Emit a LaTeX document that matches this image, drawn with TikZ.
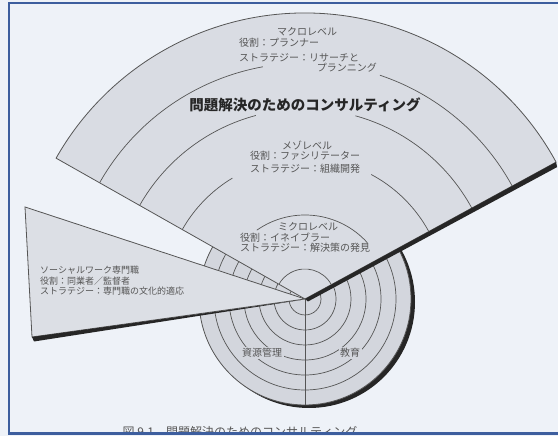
\documentclass[tikz,border=0pt]{standalone}
\usepackage{fontspec}
\newfontfamily\jp{Noto Sans CJK JP}
\usetikzlibrary{calc}
\definecolor{paper}{HTML}{EEF2F8}
\definecolor{fanfill}{HTML}{D9DCE3}
\definecolor{diskfill}{HTML}{D3D6DD}
\definecolor{wedgefill}{HTML}{DCDFE5}
\definecolor{ink}{HTML}{555555}
\definecolor{frameblue}{HTML}{3D5E9E}
\begin{document}
\begin{tikzpicture}[x=1pt,y=1pt,
  edge/.style={draw=ink,line width=0.8pt},
  ring/.style={draw=ink,line width=0.7pt},
  shadowfill/.style={fill=black!85},
  txt/.style={font=\jp\fontsize{10}{11}\selectfont,text=ink,inner sep=0pt},
  lbl/.style={txt,fill=diskfill,inner sep=1.5pt},
  title/.style={font=\jp\bfseries\fontsize{14.5}{16}\selectfont,text=black!85,inner sep=0pt}]
\useasboundingbox (0,0) rectangle (558,436);
\fill[paper] (0,0) rectangle (558,436);
\coordinate (O) at (305,137);
% disk
\fill[shadowfill] ($(O)+(4,-3)$) circle (106);
\filldraw[fill=diskfill,edge] (O) circle (106);
\foreach \r in {16,31,46,61,76,91}
  \draw[ring] (O) circle (\r);
\draw[edge] (O) -- ++(0,-106);
\node (res) at (262,83) [lbl] {資源管理};
\node (edu) at (350,83) [lbl] {教育};
% fan
\coordinate (fanR) at ($(O)+(28.6:286)$);
\filldraw[fill=fanfill,edge] (O) -- (fanR) arc[start angle=28.6,end angle=150.5,radius=286] -- cycle;
\fill[shadowfill] (O) -- (fanR) -- ++(1,-5) -- ($(O)+(3,-2.5)$) -- cycle;
\draw[ring] (O) ++(28.6:30) arc[start angle=28.6,end angle=150.5,radius=30];
\draw[ring] (O) ++(42:84) arc[start angle=42,end angle=125,radius=84];
\foreach \r/\a/\b in {141/62/121,190/74.6/105,236/71.5/100.3}{
  \draw[ring] (O) ++(28.6:\r) arc[start angle=28.6,end angle=\a,radius=\r];
  \draw[ring] (O) ++(\b:\r) arc[start angle=\b,end angle=150.5,radius=\r];
}
\node (macro) at (307,404) [txt] {マクロレベル};
\node (macrorole) at (239,393) [txt,anchor=west] {役割：プランナー};
\node (macrostrat) at (239,378) [txt,anchor=west] {ストラテジー：リサーチと};
\node (macrostrattwo) at (377,368) [txt,anchor=east] {プランニング};
\node (title) at (305,331) [title] {問題解決のためのコンサルティング};
\node (meso) at (307,291) [txt] {メゾレベル};
\node (mesorole) at (250,280) [txt,anchor=west] {役割：ファシリテーター};
\node (mesostrat) at (250,267) [txt,anchor=west] {ストラテジー：組織開発};
\node (micro) at (308,209) [txt] {ミクロレベル};
\node (microrole) at (240,198) [txt,anchor=west] {役割：イネイブラー};
\node (microstrat) at (240,188) [txt,anchor=west] {ストラテジー：解決策の発見};
% social work wedge
\coordinate (A) at (25,229);
\coordinate (B) at (32,99);
\filldraw[fill=wedgefill,edge] (O) -- (A) -- (B) -- cycle;
\fill[shadowfill] (B) -- ($(O)+(-4,-1)$) -- ($(B)+(2,-4.5)$) -- cycle;
\node (social) at (40,155) [txt,anchor=west,align=left,font=\jp\fontsize{9}{10.5}\selectfont] {ソーシャルワーク専門職\\役割：同業者／監督者\\ストラテジー：専門職の文化的適応};
% caption and frame
\begin{scope}
\clip (0,4.5) rectangle (558,436);
\node (caption) at (240,4) [txt,font=\jp\fontsize{12}{14}\selectfont] {図 9.1　問題解決のためのコンサルティング};
\end{scope}
\draw[frameblue,line width=2.5pt] (558,433) -- (9,433) -- (9,2.5) -- (558,2.5);
\end{tikzpicture}
\end{document}
